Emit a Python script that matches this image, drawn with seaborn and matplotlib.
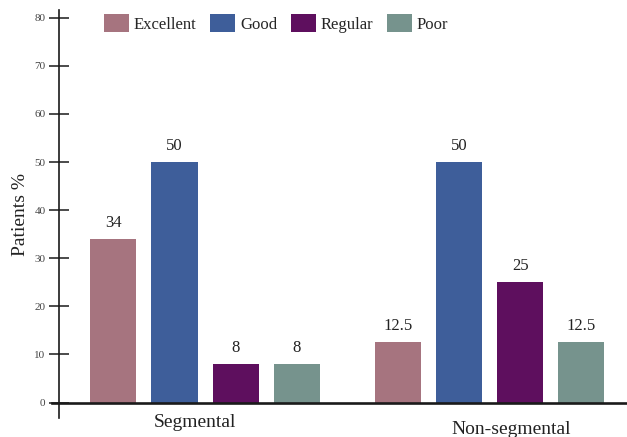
import matplotlib
matplotlib.use("Agg")
import matplotlib.pyplot as plt
import matplotlib.transforms as mtransforms
import seaborn as sns
import pandas as pd

groups = ["Segmental", "Non-segmental"]
qualities = ["Excellent", "Good", "Regular", "Poor"]
segmental_values = [34, 50, 8, 8]
nonsegmental_values = [12.5, 50, 25, 12.5]
colors = ["#A6747F", "#3E5E9A", "#5E0F5E", "#76938D"]
yticks = [0, 10, 20, 30, 40, 50, 60, 70, 80]

rows = []
for g, vals in zip(groups, [segmental_values, nonsegmental_values]):
    for q, v in zip(qualities, vals):
        rows.append({"group": g, "quality": q, "value": v})
df = pd.DataFrame(rows)

sns.set_style("white")
plt.rcParams["font.family"] = ["Liberation Serif", "DejaVu Serif"]

fig = plt.figure(figsize=(6.27, 4.37), dpi=100)
W, H = 627, 437
ax = fig.add_axes([52 / W, (H - 418.4) / H, (W - 52) / W, (418.4 - 10) / H])

sns.barplot(data=df, x="group", y="value", hue="quality", order=groups,
            hue_order=qualities, palette=colors, width=0.86, gap=0.245,
            saturation=1, linewidth=0, ax=ax, legend=True)

ax.set_xlim(-0.538, 1.483)
ax.set_ylim(-3.3, 81.6)

for sp in ["top", "right"]:
    ax.spines[sp].set_visible(False)
ax.spines["left"].set_position(("data", -0.512))
ax.spines["bottom"].set_position(("data", 0))
ax.spines["left"].set_linewidth(1.2)
ax.spines["bottom"].set_linewidth(1.9)
ax.spines["left"].set_color("#1a1a1a")
ax.spines["bottom"].set_color("#1a1a1a")

ax.set_yticks(yticks)
ax.set_yticklabels([str(t) for t in yticks])
ax.tick_params(axis="y", direction="inout", length=14, width=1.1,
               color="#1a1a1a", labelsize=8, labelcolor="#444444", pad=3, left=True)
ax.tick_params(axis="x", length=0, labelsize=14, labelcolor="#222222", pad=0, bottom=False)

ax.set_xlabel("")
ax.set_ylabel("Patients %", fontsize=14, color="#222222")
ax.yaxis.set_label_coords(-0.04, 0.5)

offsets = [(-10, -11), (22, -18)]
for lab, (dx, dy) in zip(ax.get_xticklabels(), offsets):
    lab.set_transform(lab.get_transform() +
                      mtransforms.ScaledTranslation(dx / 100, dy / 100, fig.dpi_scale_trans))

for cont in ax.containers:
    ax.bar_label(cont, fmt="%g", padding=6, fontsize=12, color="#222222")

handles, labels = ax.get_legend_handles_labels()
ax.legend(handles, labels, ncol=4, frameon=False, fontsize=12,
          loc="upper left", bbox_to_anchor=(104 / W, 1 - 14 / H),
          bbox_transform=fig.transFigure, borderaxespad=0, borderpad=0,
          handlelength=1.5, handleheight=1.3, handletextpad=0.3,
          columnspacing=0.8)

ax.grid(False)
fig.savefig("out.png", dpi=100)
